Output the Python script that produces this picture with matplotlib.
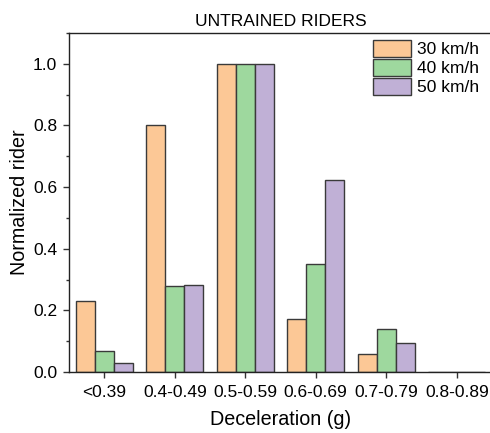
import matplotlib
matplotlib.use("Agg")
import matplotlib.pyplot as plt
import numpy as np
from matplotlib.ticker import MultipleLocator, FormatStrFormatter

plt.rcParams['font.family'] = ['Liberation Sans', 'DejaVu Sans']

categories = ["<0.39", "0.4-0.49", "0.5-0.59", "0.6-0.69", "0.7-0.79", "0.8-0.89"]
series_names = ["30 km/h", "40 km/h", "50 km/h"]
v30 = [0.229, 0.80, 1.0, 0.172, 0.057, 0.0]
v40 = [0.069, 0.279, 1.0, 0.350, 0.140, 0.0]
v50 = [0.030, 0.281, 1.0, 0.624, 0.094, 0.0]
colors = ["#FCC896", "#9ED89E", "#C0B0D6"]

W, H = 490, 433
fig = plt.figure(figsize=(W/100, H/100), dpi=100)
ax = fig.add_axes([69/W, 1-372/H, (492-69)/W, (372-33)/H])

x = np.arange(len(categories))
bw = 0.27
for i, (vals, c, n) in enumerate(zip([v30, v40, v50], colors, series_names)):
    ax.bar(x + (i-1)*bw, vals, width=bw, color=c, edgecolor="#3a3a3a", linewidth=1.0, label=n)

ax.set_xlim(-0.5, 5.5)
ax.set_ylim(0, 1.1)
ax.set_xticks(x)
ax.set_xticklabels(categories)
ax.yaxis.set_major_locator(MultipleLocator(0.2))
ax.yaxis.set_minor_locator(MultipleLocator(0.1))
ax.yaxis.set_major_formatter(FormatStrFormatter('%.1f'))
ax.tick_params(axis='both', direction='out', labelsize=12.5, length=4.5, width=1, color='#333333', pad=4)
ax.tick_params(axis='y', which='minor', length=2.5, width=1, color='#333333')
ax.tick_params(axis='x', pad=5)
ax.spines['right'].set_visible(False)
for s in ['left', 'top', 'bottom']:
    ax.spines[s].set_linewidth(1.0)
    ax.spines[s].set_color('#222222')

ax.set_xlabel("Deceleration (g)", fontsize=14.2, labelpad=7)
ax.set_ylabel("Normalized rider", fontsize=14.2, labelpad=3)
ax.set_title("UNTRAINED RIDERS", fontsize=12.5, pad=5)

leg = ax.legend(loc='upper left', bbox_to_anchor=(373/W, 1-40/H), bbox_transform=fig.transFigure,
                frameon=False, fontsize=12.5,
                handlelength=2.17, handleheight=1.15, handletextpad=0.35, labelspacing=0.08,
                borderpad=0, borderaxespad=0)

fig.savefig("out.png", dpi=100)
